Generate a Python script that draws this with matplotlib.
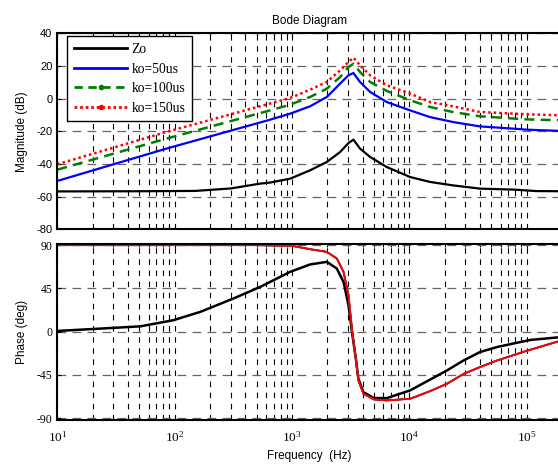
import matplotlib
matplotlib.use("Agg")
import matplotlib.pyplot as plt
from matplotlib.lines import Line2D
from matplotlib.ticker import FixedLocator, LogLocator, NullFormatter
import numpy as np

plt.rcParams['mathtext.fontset'] = 'custom'
plt.rcParams['mathtext.rm'] = 'Liberation Serif'
plt.rcParams['mathtext.it'] = 'Liberation Serif'

# ---------------- data ----------------
labels = ["Zo", "ko=50us", "ko=100us", "ko=150us"]

f_zo = [10, 50, 150, 300, 540, 650, 964, 1426, 1980, 2570, 3030, 3340, 3800, 4630, 6430,
        10160, 15000, 23500, 40000, 78000, 120000, 200000]
mag_zo = [-56.8, -56.7, -56.5, -55.0, -52.0, -51.4, -49.0, -43.9, -38.8, -32.7, -27.2, -25.1,
          -30.6, -35.7, -41.9, -48.0, -51.0, -53.1, -55.1, -55.7, -56.6, -56.7]

f_ko = [10, 85, 650, 964, 1426, 1980, 2570, 3030, 3340, 3800, 4630, 6430, 10160, 15000,
        23500, 40000, 78000, 100000, 200000]
mag_50 = [-50.4, -30.6, -12.9, -9.2, -4.7, 1.0, 9.2, 14.3, 15.7, 10.2, 4.1, -2.1, -7.2,
          -11.3, -14.3, -17.0, -18.4, -19.0, -19.8]
mag_100 = [-43.5, -24.5, -7.2, -3.7, 1.0, 6.1, 13.2, 19.4, 21.4, 16.3, 10.2, 4.7, -1.0,
           -5.1, -8.2, -10.8, -12.2, -12.7, -13.3]
mag_150 = [-40.2, -20.4, -3.0, 0.4, 5.5, 10.2, 17.3, 22.4, 25.1, 20.4, 14.3, 8.2, 3.1,
           -2.1, -4.7, -8.2, -9.2, -9.6, -10.2]

f_ph_zo = [10, 23, 51, 97, 165, 316, 535, 794, 964, 1426, 1980, 2410, 2750, 3030, 3240,
           3500, 3680, 4060, 4980, 6430, 10160, 15000, 21000, 29000, 40000, 56000, 107000,
           200000]
ph_zo = [0.7, 3.1, 5.5, 11.8, 20.5, 34.4, 46.5, 57.0, 62.2, 69.9, 72.6, 65.7, 51.7, 27.4,
         0.0, -28.1, -49.0, -63.0, -69.2, -69.2, -61.2, -50.0, -40.3, -30.0, -21.3, -16.0,
         -8.7, -5.6]

f_ph_ko = [10, 500, 1000, 1426, 1980, 2410, 2750, 3030, 3240, 3500, 3680, 4060, 4980, 6430,
           10160, 15000, 21000, 29000, 40000, 56000, 100000, 200000]
ph_ko = [90.0, 90.0, 89.3, 85.8, 83.0, 76.1, 62.2, 37.9, 3.1, -28.1, -50.8, -64.6, -70.6,
         -71.6, -69.9, -62.0, -54.2, -44.0, -36.9, -30.0, -20.0, -9.0]

mag_ticks = [40, 20, 0, -20, -40, -60, -80]
ph_ticks = [90, 45, 0, -45, -90]
x_ticks = [1e1, 1e2, 1e3, 1e4, 1e5]
x_ticklabels = [r"$\mathrm{10^{%d}}$" % e for e in range(1, 6)]

# ---------------- figure ----------------
fig = plt.figure(figsize=(5.58, 4.68), dpi=100)
left = 57.3 / 558
width = (562 - 57.3) / 558
ax1 = fig.add_axes([left, 1 - 229.3 / 468, width, 196 / 468])
ax2 = fig.add_axes([left, 1 - 420 / 468, width, 176 / 468])

serif = 'Liberation Serif'
sans = 'Liberation Sans'

ax1.plot(f_zo, mag_zo, color='k', lw=1.6)
ax1.plot(f_ko, mag_50, color='#0000ff', lw=1.6)
ax1.plot(f_ko, mag_100, color='#008000', lw=1.8, ls=(0, (4, 2.5)))
ax1.plot(f_ko, mag_150, color='#ff0000', lw=1.8, ls=(0, (1, 1.2)))

ax2.plot(f_ph_zo, ph_zo, color='k', lw=1.8)
ax2.plot(f_ph_ko, ph_ko, color='#0000ff', lw=1.2)
ax2.plot(f_ph_ko, ph_ko, color='#008000', lw=1.2)
ax2.plot(f_ph_ko, ph_ko, color='#ff0000', lw=1.4)

for ax in (ax1, ax2):
    ax.set_xscale('log')
    ax.set_xlim(10, 2e5)
    ax.xaxis.set_major_locator(FixedLocator(x_ticks))
    ax.xaxis.set_minor_locator(LogLocator(base=10, subs=np.arange(2, 10)))
    ax.xaxis.set_minor_formatter(NullFormatter())
    ax.grid(True, which='both', axis='x', color='k', lw=0.8, ls=(0, (5, 5)))
    ax.grid(True, which='major', axis='y', color='0.4', lw=0.9, ls=(0, (7, 5)))
    ax.tick_params(which='both', direction='in', top=True, right=True, length=3, width=0.8)
    ax.tick_params(which='minor', length=2)
    for s in ax.spines.values():
        s.set_linewidth(1.5)

ax1.set_ylim(-80, 40)
ax1.set_yticks(mag_ticks)
ax1.set_yticklabels([str(v) for v in mag_ticks], family=sans, fontsize=8)
ax1.set_xticklabels([])
ax1.set_ylabel("Magnitude (dB)", family=sans, fontsize=8.5, labelpad=6)
ax1.set_title("Bode Diagram", family=sans, fontsize=8.5, pad=7)

ax2.set_ylim(-92, 91.2)
ax2.set_yticks(ph_ticks)
ax2.set_yticklabels([str(v) for v in ph_ticks], family=serif, fontsize=8.5)
ax2.set_xticklabels(x_ticklabels, fontsize=9.5)
ax2.tick_params(axis='x', pad=7)
ax2.set_ylabel("Phase (deg)", family=sans, fontsize=8.5, labelpad=6)
ax2.set_xlabel("Frequency  (Hz)", family=sans, fontsize=8.5, labelpad=4)

handles = [
    Line2D([], [], color='k', lw=2),
    Line2D([], [], color='#0000ff', lw=2),
    Line2D([], [], color='#008000', lw=2, ls=(0, (3, 2)), marker='.', markersize=6),
    Line2D([], [], color='#ff0000', lw=2, ls=(0, (1, 1)), marker='.', markersize=6),
]
leg = ax1.legend(handles, labels, loc='upper left', bbox_to_anchor=(0.02, 0.985),
                 prop={'family': serif, 'size': 9.8}, frameon=True, fancybox=False,
                 edgecolor='k', framealpha=1, handlelength=3.9, handletextpad=0.3,
                 labelspacing=0.48, borderpad=0.5, numpoints=1, borderaxespad=0)
leg.get_frame().set_linewidth(1.0)

fig.savefig("out.png", dpi=100)
